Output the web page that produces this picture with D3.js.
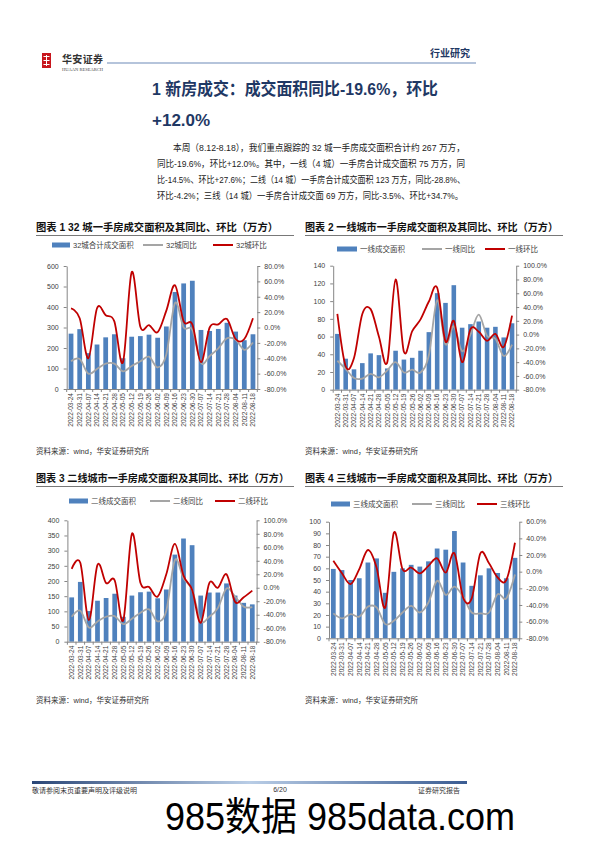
<!DOCTYPE html>
<html><head><meta charset="utf-8">
<script src="https://cdn.jsdelivr.net/npm/d3@7"></script>
<style>body{margin:0;background:#fff}svg{display:block}</style>
</head><body>
<svg id="page" width="596" height="842"></svg>
<script>
// ---------- data ----------
const dates = ["2022-03-24","2022-03-31","2022-04-07","2022-04-14","2022-04-21","2022-04-28","2022-05-05","2022-05-12","2022-05-19","2022-05-26","2022-06-02","2022-06-09","2022-06-16","2022-06-23","2022-06-30","2022-07-07","2022-07-14","2022-07-21","2022-07-28","2022-08-04","2022-08-11","2022-08-18"];

const area32 = [270, 292, 175, 217, 252, 267, 150, 255, 258, 265, 250, 305, 473, 515, 528, 288, 283, 293, 323, 280, 238, 267];
const yoy32  = [-44, -41, -60, -54, -47, -47, -57, -50, -44, -38, -52, -35, 32, 0, -3, -46, -37, -27, -14, -16, -29, -19.6];
const qoq32  = [25, 12, -40, 25, 16, 8, -45, 72, 1, 3, -6, 22, 55, 8, 4, -45, 0, 4, 11, -15, -15, 12];

const areaT1 = [63, 35, 23, 30, 41, 39, 24, 44, 34, 36, 44, 65, 109, 98, 118, 70, 74, 77, 70, 71, 59, 75];
const yoyT1  = [-38, -50, -63, -64, -57, -62, -52, -40, -55, -51, -55, -30, 50, -14, 12, -24, 0, 29, -2, -6, -31, -14.5];
const qoqT1  = [30, -46, -34, 30, 37, -3, -40, 80, -25, 5, 22, 48, 68, -10, 20, -40, 8, 4, -9, 1, -18, 27.6];

const areaT2 = [146, 197, 101, 135, 144, 158, 82, 152, 163, 165, 143, 172, 287, 340, 318, 152, 162, 162, 192, 152, 128, 123];
const yoyT2  = [-43, -34, -59, -50, -43, -42, -54, -46, -37, -32, -50, -34, 41, 14, -3, -49, -43, -30, -1, -13, -28, -28.8];
const qoqT2  = [28, 37, -48, 34, 7, 11, -48, 80, 7, 1, -13, 20, 65, 18, -3, -52, 7, 0, 20, -21, -14, -4.2];

const areaT3 = [59.5, 58.5, 50, 51.5, 65, 68.5, 39, 57, 60, 63, 61.5, 66, 77, 76, 92, 65, 45, 54, 60, 56, 51.5, 69];
const yoyT3  = [-50, -56, -51, -54, -42, -43, -63, -59, -49, -41, -49, -37, -11, -28, -18, -30, -49, -50, -49, -27, -32, -3.5];
const qoqT3  = [13, -2, -15, 3, 26, 5, -43, 47, 3, 5, -2, 7, 16, -1, 22, -31, -32, 22, 10, -7, -10, 34.7];

const legend32 = ["32城合计成交面积", "32城同比", "32城环比"];
const legendT1 = ["一线成交面积", "一线同比", "一线环比"];
const legendT2 = ["二线成交面积", "二线同比", "二线环比"];
const legendT3 = ["三线成交面积", "三线同比", "三线环比"];

const chartTitles = [
  "图表 1 32 城一手房成交面积及其同比、环比（万方）",
  "图表 2 一线城市一手房成交面积及其同比、环比（万方）",
  "图表 3 二线城市一手房成交面积及其同比、环比（万方）",
  "图表 4 三线城市一手房成交面积及其同比、环比（万方）"
];
const sourceText = "资料来源：wind，华安证券研究所";
const titleLine1 = "1 新房成交：成交面积同比-19.6%，环比";
const titleLine2 = "+12.0%";
const paraLines = [
  "本周（8.12-8.18），我们重点跟踪的 32 城一手房成交面积合计约 267 万方，",
  "同比-19.6%，环比+12.0%。其中，一线（4 城）一手房合计成交面积 75 万方，同",
  "比-14.5%、环比+27.6%；二线（14 城）一手房合计成交面积 123 万方，同比-28.8%、",
  "环比-4.2%；三线（14 城）一手房合计成交面 69 万方，同比-3.5%、环比+34.7%。"
];

// ---------- page ----------
const svg = d3.select("#page");
const CJK = "'Noto Sans CJK SC', sans-serif";
const LAT = "'Liberation Sans', 'Noto Sans CJK SC', sans-serif";
const BLUE = "#4F81BD", GRAY = "#A5A5A5", RED = "#C00000";

// header
const logo = svg.append("g");
logo.append("rect").attr("x", 42).attr("y", 53).attr("width", 9).attr("height", 15).attr("fill", "#C8161D");
[[43.5,56,6,1],[43.5,60,6,1],[43.5,64,6,1],[46,55,1,11]].forEach(r =>
  logo.append("rect").attr("x", r[0]).attr("y", r[1]).attr("width", r[2]).attr("height", r[3]).attr("fill", "#fff"));
svg.append("text").attr("x", 62).attr("y", 63).attr("font-family", CJK).attr("font-size", 10).attr("font-weight", "bold")
  .attr("fill", "#333").attr("textLength", 41).text("华安证券");
svg.append("text").attr("x", 62).attr("y", 70.5).attr("font-family", "'Liberation Serif', serif").attr("font-size", 4.5)
  .attr("fill", "#444").attr("textLength", 41).text("HUAAN RESEARCH");
svg.append("line").attr("x1", 107).attr("x2", 476).attr("y1", 63).attr("y2", 63).attr("stroke", "#9DB1CF").attr("stroke-width", 1.5);
svg.append("text").attr("x", 470).attr("y", 57).attr("text-anchor", "end").attr("font-family", CJK).attr("font-size", 10)
  .attr("font-weight", "bold").attr("fill", "#1F3864").text("行业研究");

// title
svg.append("text").attr("x", 152).attr("y", 95).attr("font-family", LAT).attr("font-size", 17).attr("font-weight", "bold")
  .attr("fill", "#1F3864").attr("textLength", 286).attr("lengthAdjust", "spacingAndGlyphs").text(titleLine1);
svg.append("text").attr("x", 152).attr("y", 126).attr("font-family", LAT).attr("font-size", 17).attr("font-weight", "bold")
  .attr("fill", "#1F3864").text(titleLine2);

// paragraph
const paraY = [150.5, 166.5, 182.5, 198.5];
paraLines.forEach((t, i) => {
  const x0 = i === 0 ? 173 : 157;
  svg.append("text").attr("x", x0).attr("y", paraY[i]).attr("font-family", LAT).attr("font-size", 9.6)
    .attr("fill", "#222").attr("textLength", (i === 3 ? 463 : 465) - x0)
    .attr("lengthAdjust", "spacingAndGlyphs").text(t);
});

// chart titles, underlines, sources
const titlePos = [[36, 231, 242], [305, 231, 253], [36, 482, 253], [305, 482, 253]];
titlePos.forEach((p, i) => {
  svg.append("text").attr("x", p[0]).attr("y", p[1]).attr("font-family", LAT).attr("font-size", 10.5)
    .attr("font-weight", "bold").attr("fill", "#111").attr("textLength", p[2]).attr("lengthAdjust", "spacingAndGlyphs")
    .text(chartTitles[i]);
  svg.append("line").attr("x1", p[0]).attr("x2", p[0] + 258).attr("y1", p[1] + 4.5).attr("y2", p[1] + 4.5)
    .attr("stroke", "#555").attr("stroke-width", 0.8);
});
[[36, 454], [305, 454], [36, 703], [305, 703]].forEach(p => {
  svg.append("text").attr("x", p[0]).attr("y", p[1]).attr("font-family", LAT).attr("font-size", 7.5)
    .attr("fill", "#333").text(sourceText);
});

// ---------- chart function ----------
function drawChart(o) {
  const g = svg.append("g");
  const n = dates.length;
  const p = 0.45;
  const x = d3.scaleBand().domain(dates).range([o.left, o.right]).paddingInner(p).paddingOuter(p / 2);
  const yL = d3.scaleLinear().domain([0, o.lmax]).range([o.bottom, o.top]);
  const yR = d3.scaleLinear().domain([o.rmin, o.rmax]).range([o.bottom, o.top]);
  const cx = d => x(d) + x.bandwidth() / 2;

  g.selectAll("rect.bar").data(o.bars).join("rect").attr("class", "bar")
    .attr("x", (d, i) => x(dates[i])).attr("width", x.bandwidth())
    .attr("y", d => yL(d)).attr("height", d => yL(0) - yL(d)).attr("fill", BLUE);

  const line = d3.line().x((d, i) => cx(dates[i])).y(d => yR(d)).curve(d3.curveCardinal.tension(0));
  g.append("path").datum(o.yoy).attr("d", line).attr("fill", "none").attr("stroke", GRAY).attr("stroke-width", 1.8);
  g.append("path").datum(o.qoq).attr("d", line).attr("fill", "none").attr("stroke", RED).attr("stroke-width", 1.8);

  const aL = g.append("g").attr("transform", `translate(${o.left},0)`)
    .call(d3.axisLeft(yL).tickValues(d3.range(0, o.lmax + 1e-9, o.lstep)).tickSize(3).tickSizeOuter(0).tickPadding(5).tickFormat(d3.format("d")));
  const aR = g.append("g").attr("transform", `translate(${o.right},0)`)
    .call(d3.axisRight(yR).tickValues(d3.range(o.rmin, o.rmax + 1e-9, 20)).tickSize(3).tickSizeOuter(0).tickPadding(4)
      .tickFormat(d => (Math.abs(d) < 1e-9 ? 0 : d).toFixed(1) + "%"));
  const aB = g.append("g").attr("transform", `translate(0,${o.bottom})`)
    .call(d3.axisBottom(x).tickSize(0).tickSizeOuter(0).tickPadding(0));
  aB.selectAll("text").attr("transform", "rotate(-90)").attr("x", -4).attr("y", 0).attr("dy", "0.35em")
    .attr("text-anchor", "end").attr("font-size", 6.6);
  const step = x.step();
  const b0 = x(dates[0]) - step * p / 2;
  aB.selectAll("line.bt").data(d3.range(n + 1)).join("line").attr("class", "bt")
    .attr("x1", i => b0 + i * step).attr("x2", i => b0 + i * step).attr("y1", 0).attr("y2", 3).attr("stroke", "#868686");

  [aL, aR, aB].forEach(a => {
    a.selectAll("path.domain").attr("stroke", "#868686");
    a.selectAll(".tick line").attr("stroke", "#868686");
    a.selectAll("text").attr("font-family", LAT).attr("fill", "#404040");
  });
  aL.selectAll("text").attr("font-size", 7);
  aR.selectAll("text").attr("font-size", 7);

  const L = o.leg;
  g.append("rect").attr("x", L[0]).attr("y", L[6] - 2.5).attr("width", L[1] - L[0]).attr("height", 5).attr("fill", BLUE);
  g.append("line").attr("x1", L[2]).attr("x2", L[2] + 20).attr("y1", L[6]).attr("y2", L[6]).attr("stroke", GRAY).attr("stroke-width", 2);
  g.append("line").attr("x1", L[4]).attr("x2", L[4] + 20).attr("y1", L[6]).attr("y2", L[6]).attr("stroke", RED).attr("stroke-width", 2);
  [[L[1] + 3, o.legendText[0]], [L[2] + 23, o.legendText[1]], [L[4] + 23, o.legendText[2]]].forEach(t => {
    g.append("text").attr("x", t[0]).attr("y", L[6]).attr("dy", "0.35em").attr("font-family", LAT)
      .attr("font-size", 7.5).attr("fill", "#404040").text(t[1]);
  });
}

drawChart({ left: 66.7, right: 257.3, top: 266, bottom: 389, lmax: 600, lstep: 100, rmin: -80, rmax: 80,
  bars: area32, yoy: yoy32, qoq: qoq32, legendText: legend32, leg: [52, 70, 143, 0, 213, 0, 245] });
drawChart({ left: 333.2, right: 516.2, top: 265.7, bottom: 389.7, lmax: 140, lstep: 20, rmin: -80, rmax: 100,
  bars: areaT1, yoy: yoyT1, qoq: qoqT1, legendText: legendT1, leg: [337, 357, 422, 0, 485, 0, 249] });
drawChart({ left: 67.4, right: 256.6, top: 520.3, bottom: 641.7, lmax: 400, lstep: 50, rmin: -80, rmax: 100,
  bars: areaT2, yoy: yoyT2, qoq: qoqT2, legendText: legendT2, leg: [69, 88, 150, 0, 215, 0, 501] });
drawChart({ left: 329, right: 519.3, top: 521.7, bottom: 638.3, lmax: 100, lstep: 10, rmin: -80, rmax: 60,
  bars: areaT3, yoy: yoyT3, qoq: qoqT3, legendText: legendT3, leg: [331, 350, 412, 0, 477, 0, 504] });

// footer
const defs = svg.append("defs");
const grad = defs.append("linearGradient").attr("id", "fg").attr("x1", "0").attr("x2", "1");
grad.append("stop").attr("offset", "0").attr("stop-color", "#2B4777");
grad.append("stop").attr("offset", "0.5").attr("stop-color", "#B9CDE6");
grad.append("stop").attr("offset", "1").attr("stop-color", "#3A5C92");
svg.append("rect").attr("x", 32).attr("y", 781).attr("width", 435).attr("height", 3).attr("fill", "url(#fg)");
svg.append("text").attr("x", 32).attr("y", 792.5).attr("font-family", CJK).attr("font-size", 7).attr("fill", "#333")
  .text("敬请参阅末页重要声明及评级说明");
svg.append("text").attr("x", 280).attr("y", 792).attr("text-anchor", "middle").attr("font-family", LAT).attr("font-size", 7)
  .attr("fill", "#333").text("6/20");
svg.append("text").attr("x", 460).attr("y", 792.5).attr("text-anchor", "end").attr("font-family", CJK).attr("font-size", 7)
  .attr("fill", "#333").text("证券研究报告");

// watermark
svg.append("text").attr("x", 165).attr("y", 830).attr("font-family", LAT).attr("font-size", 39).attr("fill", "#000")
  .attr("textLength", 350).attr("lengthAdjust", "spacingAndGlyphs").text("985数据 985data.com");
</script>
</body></html>
